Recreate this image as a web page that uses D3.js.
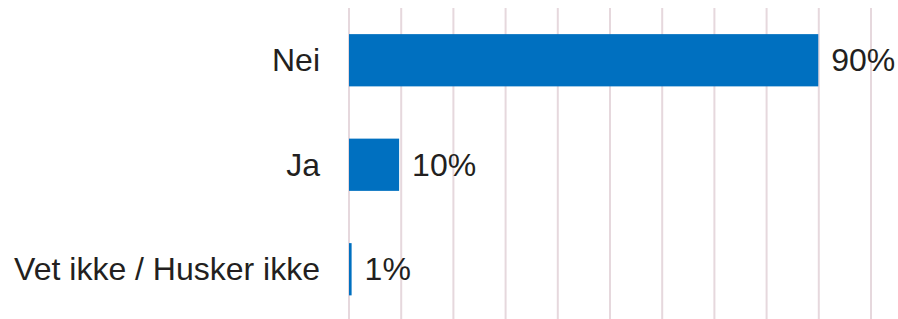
<!DOCTYPE html>
<html>
<head>
<meta charset="utf-8">
<script src="https://cdn.jsdelivr.net/npm/d3@7"></script>
<style>
  body { margin: 0; background: #fff; }
  svg { display: block; }
</style>
</head>
<body>
<script>
// data
var categories = ["Nei", "Ja", "Vet ikke / Husker ikke"];
var values = [89.9, 9.6, 0.5];
var ticks = [0, 10, 20, 30, 40, 50, 60, 70, 80, 90, 100];

var width = 898, height = 319;
var plotLeft = 349, plotRight = 871, plotTop = 8;

var svg = d3.select("body").append("svg")
    .attr("width", width)
    .attr("height", height);

var x = d3.scaleLinear().domain([0, 100]).range([plotLeft, plotRight]);
var y = d3.scaleBand().domain(categories)
    .range([plotTop, plotTop + 313.5])
    .paddingInner(0.5)
    .paddingOuter(0.25);

// gridlines
svg.append("g").selectAll("line")
    .data(ticks)
    .enter().append("line")
    .attr("x1", function(d) { return x(d); })
    .attr("x2", function(d) { return x(d); })
    .attr("y1", plotTop)
    .attr("y2", height)
    .attr("stroke", "#e6d8dd")
    .attr("stroke-width", 2);

// bars
svg.append("g").selectAll("rect")
    .data(values)
    .enter().append("rect")
    .attr("x", x(0))
    .attr("y", function(d, i) { return y(categories[i]); })
    .attr("width", function(d) { return x(d) - x(0); })
    .attr("height", y.bandwidth())
    .attr("fill", "#0070c0");

// category labels
svg.append("g").selectAll("text")
    .data(categories)
    .enter().append("text")
    .attr("x", 320)
    .attr("y", function(d) { return y(d) + y.bandwidth() / 2; })
    .attr("dy", ".35em")
    .attr("text-anchor", "end")
    .attr("font-family", "Liberation Sans, Arial, sans-serif")
    .attr("font-size", "32px")
    .attr("fill", "#231f20")
    .text(function(d) { return d; });

// value labels
svg.append("g").selectAll("text")
    .data(values)
    .enter().append("text")
    .attr("x", function(d) { return x(d) + 13; })
    .attr("y", function(d, i) { return y(categories[i]) + y.bandwidth() / 2; })
    .attr("dy", ".35em")
    .attr("font-family", "Liberation Sans, Arial, sans-serif")
    .attr("font-size", "32px")
    .attr("fill", "#231f20")
    .text(function(d) { return Math.round(d) + "%"; });
</script>
</body>
</html>
